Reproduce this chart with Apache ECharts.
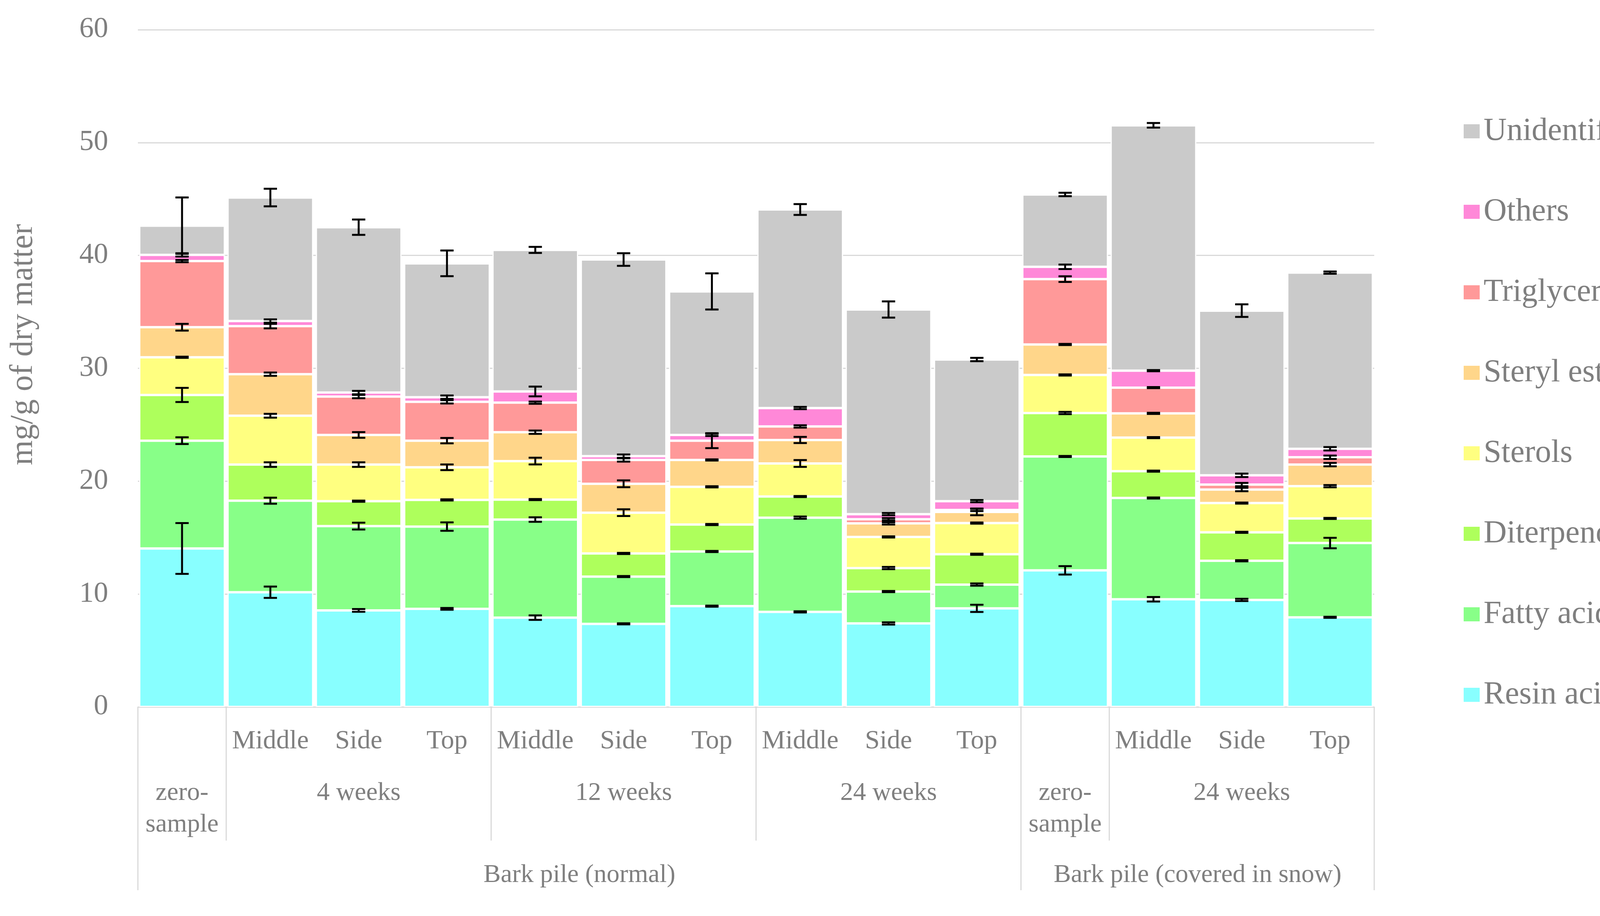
<!DOCTYPE html>
<html><head><meta charset="utf-8">
<script src="https://cdn.jsdelivr.net/npm/echarts@6/dist/echarts.min.js"></script>
<style>html,body{margin:0;padding:0;background:#fff}#c{width:4253px;height:2344px}</style>
</head><body><div id="c"></div>
<script>
// ---- data ----
const positionLabels = ['', 'Middle', 'Side', 'Top', 'Middle', 'Side', 'Top', 'Middle', 'Side', 'Top', '', 'Middle', 'Side', 'Top'];
const timeGroups = [['zero-\nsample', 0, 0], ['4 weeks', 1, 3], ['12 weeks', 4, 6], ['24 weeks', 7, 9], ['zero-\nsample', 10, 10], ['24 weeks', 11, 13]];
const pileGroups = [['Bark pile (normal)', 0, 9], ['Bark pile (covered in snow)', 10, 13]];
const yTitle = 'mg/g of dry matter';

const resinAcids    = [14.04, 10.16, 8.55, 8.69, 7.91, 7.36, 8.93, 8.42, 7.40, 8.73, 12.10, 9.54, 9.48, 7.94];
const fattyAcids    = [9.55, 8.11, 7.47, 7.29, 8.69, 4.19, 4.84, 8.35, 2.82, 2.11, 10.09, 8.97, 3.47, 6.58];
const diterpenoids  = [4.05, 3.20, 2.21, 2.36, 1.77, 2.05, 2.39, 1.87, 2.08, 2.69, 3.85, 2.38, 2.52, 2.18];
const sterols       = [3.34, 4.33, 3.24, 2.89, 3.41, 3.61, 3.34, 2.93, 2.76, 2.76, 3.37, 2.97, 2.59, 2.86];
const sterylEsters  = [2.66, 3.68, 2.63, 2.36, 2.56, 2.56, 2.38, 2.08, 1.20, 0.99, 2.70, 2.15, 1.20, 1.91];
const triglycerides = [5.86, 4.26, 3.40, 3.44, 2.62, 2.11, 1.71, 1.20, 0.37, 0.17, 5.79, 2.28, 0.44, 0.65];
const others        = [0.55, 0.45, 0.35, 0.41, 0.99, 0.34, 0.51, 1.63, 0.45, 0.78, 1.09, 1.50, 0.82, 0.75];
const unidentified  = [2.59, 10.94, 14.65, 11.86, 12.54, 17.42, 12.71, 17.59, 18.13, 12.55, 6.41, 21.74, 14.59, 15.61];

const errResin   = [2.25, 0.50, 0.12, 0.08, 0.20, 0.05, 0.05, 0.05, 0.10, 0.32, 0.37, 0.20, 0.10, 0.05];
const errFatty   = [0.30, 0.27, 0.30, 0.37, 0.20, 0.05, 0.05, 0.10, 0.05, 0.10, 0.05, 0.05, 0.05, 0.46];
const errDiterp  = [0.63, 0.20, 0.05, 0.05, 0.05, 0.05, 0.05, 0.05, 0.10, 0.05, 0.10, 0.05, 0.05, 0.05];
const errSterols = [0.05, 0.17, 0.20, 0.25, 0.30, 0.30, 0.05, 0.30, 0.05, 0.05, 0.05, 0.05, 0.05, 0.10];
const errSteryl  = [0.30, 0.15, 0.25, 0.24, 0.15, 0.30, 0.05, 0.27, 0.10, 0.30, 0.05, 0.05, 0.15, 0.15];
const errTrig    = [0.10, 0.20, 0.15, 0.15, 0.10, 0.15, 0.66, 0.10, 0.10, 0.10, 0.25, 0.05, 0.15, 0.15];
const errOthers  = [0.15, 0.15, 0.15, 0.15, 0.43, 0.15, 0.10, 0.10, 0.10, 0.10, 0.20, 0.05, 0.15, 0.15];
const errUnid    = [2.50, 0.78, 0.68, 1.14, 0.27, 0.56, 1.60, 0.48, 0.72, 0.15, 0.15, 0.20, 0.56, 0.10];

const seriesNames = ['Resin acids', 'Fatty acids', 'Diterpenoids', 'Sterols', 'Steryl esters', 'Triglycerides', 'Others', 'Unidentified'];
const seriesValues = [resinAcids, fattyAcids, diterpenoids, sterols, sterylEsters, triglycerides, others, unidentified];
const seriesErrors = [errResin, errFatty, errDiterp, errSterols, errSteryl, errTrig, errOthers, errUnid];
const seriesColors = ['#88FFFF', '#88FF88', '#AEFF5C', '#FFFF80', '#FFD68A', '#FF9999', '#FF88D8', '#CACACA'];

// ---- chart ----
const FONT = 'Liberation Serif';
const TXT = '#7F7F7F';
const chart = echarts.init(document.getElementById('c'));
const cats = positionLabels.map((_, i) => String(i));

const barSeries = seriesNames.map((name, k) => ({
  name, type: 'bar', stack: 'total', data: seriesValues[k],
  barCategoryGap: '3%',
  itemStyle: { color: seriesColors[k], borderColor: '#fff', borderWidth: 3 },
  emphasis: { disabled: true }, z: 2
}));

const errData = [];
for (let i = 0; i < cats.length; i++) {
  let cum = 0;
  for (let k = 0; k < seriesValues.length; k++) {
    cum += seriesValues[k][i];
    errData.push([i, cum, seriesErrors[k][i]]);
  }
}

const errSeries = {
  type: 'custom', name: 'err', data: errData, z: 10, silent: true,
  renderItem: function (params, api) {
    const x = api.value(0), v = api.value(1), e = api.value(2);
    const pt = api.coord([x, v + e]), pb = api.coord([x, v - e]);
    const half = 17;
    const st = { stroke: '#000', lineWidth: 5 };
    return { type: 'group', children: [
      { type: 'line', shape: { x1: pt[0], y1: pt[1], x2: pb[0], y2: pb[1] }, style: st },
      { type: 'line', shape: { x1: pt[0] - half, y1: pt[1], x2: pt[0] + half, y2: pt[1] }, style: st },
      { type: 'line', shape: { x1: pb[0] - half, y1: pb[1], x2: pb[0] + half, y2: pb[1] }, style: st }
    ]};
  }
};

chart.setOption({
  animation: false,
  backgroundColor: '#fff',
  grid: { left: 353, right: 735, top: 76, bottom: 535, containLabel: false },
  legend: {
    data: seriesNames.slice().reverse(),
    orient: 'vertical', left: 3740, top: 290,
    itemWidth: 43, itemHeight: 38, itemGap: 124,
    textStyle: { fontFamily: FONT, fontSize: 82, color: TXT, padding: [0, 0, 0, 4] },
    icon: 'rect', selectedMode: false
  },
  xAxis: {
    type: 'category', data: cats,
    axisLine: { show: true, lineStyle: { color: '#D9D9D9', width: 3 } },
    axisTick: { show: false },
    axisLabel: { formatter: (v) => positionLabels[+v], fontFamily: FONT, fontSize: 68, color: TXT, margin: 54, interval: 0 }
  },
  yAxis: {
    type: 'value', min: 0, max: 60, interval: 10,
    axisLine: { show: false }, axisTick: { show: false },
    axisLabel: { fontFamily: FONT, fontSize: 74, color: TXT, margin: 76 },
    splitLine: { lineStyle: { color: '#D9D9D9', width: 3 } }
  },
  series: barSeries.concat([errSeries])
});

// ---- multi-level category labels & separators ----
function drawLevels() {
  const c0 = chart.convertToPixel({ xAxisIndex: 0 }, 0);
  const c1 = chart.convertToPixel({ xAxisIndex: 0 }, 1);
  const bw = c1 - c0;
  const y0 = chart.convertToPixel({ yAxisIndex: 0 }, 0);
  const leftOf = (i) => chart.convertToPixel({ xAxisIndex: 0 }, i) - bw / 2;
  const rightOf = (i) => chart.convertToPixel({ xAxisIndex: 0 }, i) + bw / 2;
  const shortBottom = y0 + 342, longBottom = y0 + 469;
  const els = [];
  const lineSt = { stroke: '#D9D9D9', lineWidth: 3 };
  const bounds = {};
  timeGroups.forEach(g => { bounds[g[1]] = Math.max(bounds[g[1]] || 0, 1); });
  pileGroups.forEach(g => { bounds[g[1]] = 2; });
  bounds[positionLabels.length] = 2;
  Object.keys(bounds).forEach(k => {
    const i = +k;
    const x = i < positionLabels.length ? leftOf(i) : rightOf(i - 1);
    els.push({ type: 'line', shape: { x1: x, y1: y0, x2: x, y2: bounds[k] === 2 ? longBottom : shortBottom }, style: lineSt, silent: true });
  });
  timeGroups.forEach(g => {
    const xc = (leftOf(g[1]) + rightOf(g[2])) / 2;
    els.push({ type: 'text', x: xc, y: y0 + 180, style: { text: g[0], fontFamily: FONT, fontSize: 66, fill: TXT, align: 'center', verticalAlign: 'top', lineHeight: 81 }, silent: true });
  });
  pileGroups.forEach(g => {
    const xc = (leftOf(g[1]) + rightOf(g[2])) / 2;
    els.push({ type: 'text', x: xc, y: y0 + 431, style: { text: g[0], fontFamily: FONT, fontSize: 66, fill: TXT, align: 'center', verticalAlign: 'middle' }, silent: true });
  });
  const yTop = chart.convertToPixel({ yAxisIndex: 0 }, 60);
  els.push({ type: 'text', x: 60, y: yTop + (y0 - yTop) * 0.465, rotation: Math.PI / 2,
    style: { text: yTitle, fontFamily: FONT, fontSize: 82, fill: TXT, align: 'center', verticalAlign: 'middle' }, silent: true });
  chart.setOption({ graphic: { elements: els } });
}
drawLevels();
</script></body></html>
